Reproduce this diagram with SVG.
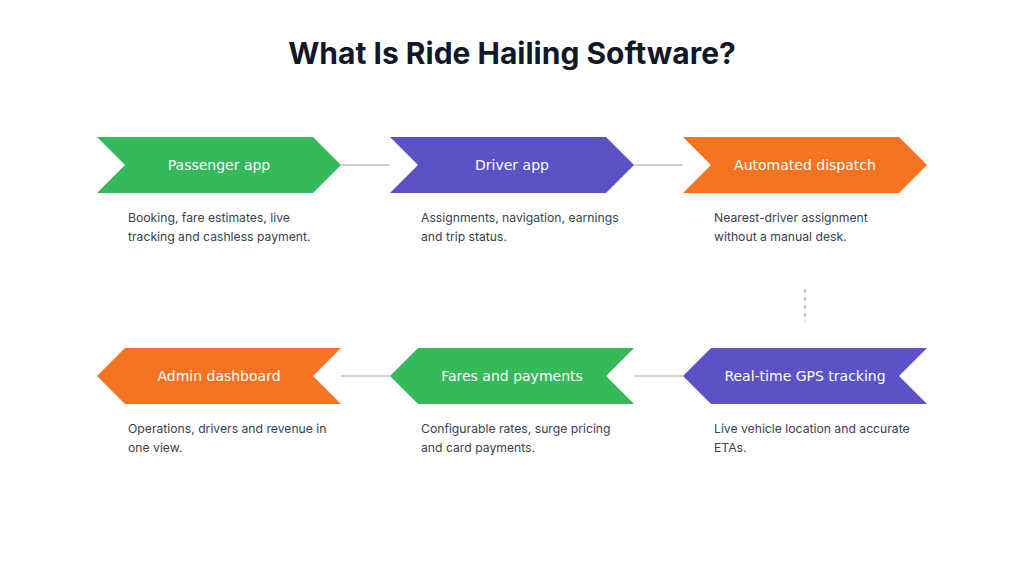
<svg xmlns="http://www.w3.org/2000/svg" width="1024" height="576" viewBox="0 0 1024 576">
<style>
.t{font-family:Inter,"Liberation Sans",sans-serif;font-weight:700;font-size:30px;fill:#111827}
.l{font-family:"DejaVu Sans",sans-serif;font-size:14px;fill:#fff}
.d{font-family:Inter,"Liberation Sans",sans-serif;font-size:12.2px;fill:#374151}
.c{stroke:#9ca3af;stroke-width:1.2;fill:none}
.g{fill:#36b95a}.p{fill:#5b52c6}.o{fill:#f47321}
</style>
<rect width="1024" height="576" fill="#fff"/>
<text class="t" x="512" y="64" text-anchor="middle">What Is Ride Hailing Software?</text>
<g id="connectors">
<line class="c" x1="341" y1="165" x2="390" y2="165"/>
<line class="c" x1="634" y1="165" x2="683" y2="165"/>
<line class="c" x1="341" y1="376" x2="390" y2="376"/>
<line class="c" x1="634" y1="376" x2="683" y2="376"/>
<line class="c" x1="805" y1="289" x2="805" y2="322" stroke-dasharray="4,4"/>
</g>
<g id="passenger"><polygon class="g" points="97,137 313,137 341,165 313,193 97,193 125,165"/><text class="l" x="219" y="170" text-anchor="middle">Passenger app</text>
<text class="d" x="128" y="222">Booking, fare estimates, live</text><text class="d" x="128" y="241">tracking and cashless payment.</text></g>
<g id="driver"><polygon class="p" points="390,137 606,137 634,165 606,193 390,193 418,165"/><text class="l" x="512" y="170" text-anchor="middle">Driver app</text>
<text class="d" x="421" y="222">Assignments, navigation, earnings</text><text class="d" x="421" y="241">and trip status.</text></g>
<g id="dispatch"><polygon class="o" points="683,137 899,137 927,165 899,193 683,193 711,165"/><text class="l" x="805" y="170" text-anchor="middle">Automated dispatch</text>
<text class="d" x="714" y="222">Nearest-driver assignment</text><text class="d" x="714" y="241">without a manual desk.</text></g>
<g id="gps"><polygon class="p" points="683,376 711,348 927,348 899,376 927,404 711,404"/><text class="l" x="805" y="381" text-anchor="middle">Real-time GPS tracking</text>
<text class="d" x="714" y="433">Live vehicle location and accurate</text><text class="d" x="714" y="452">ETAs.</text></g>
<g id="fares"><polygon class="g" points="390,376 418,348 634,348 606,376 634,404 418,404"/><text class="l" x="512" y="381" text-anchor="middle">Fares and payments</text>
<text class="d" x="421" y="433">Configurable rates, surge pricing</text><text class="d" x="421" y="452">and card payments.</text></g>
<g id="admin"><polygon class="o" points="97,376 125,348 341,348 313,376 341,404 125,404"/><text class="l" x="219" y="381" text-anchor="middle">Admin dashboard</text>
<text class="d" x="128" y="433">Operations, drivers and revenue in</text><text class="d" x="128" y="452">one view.</text></g>
</svg>
